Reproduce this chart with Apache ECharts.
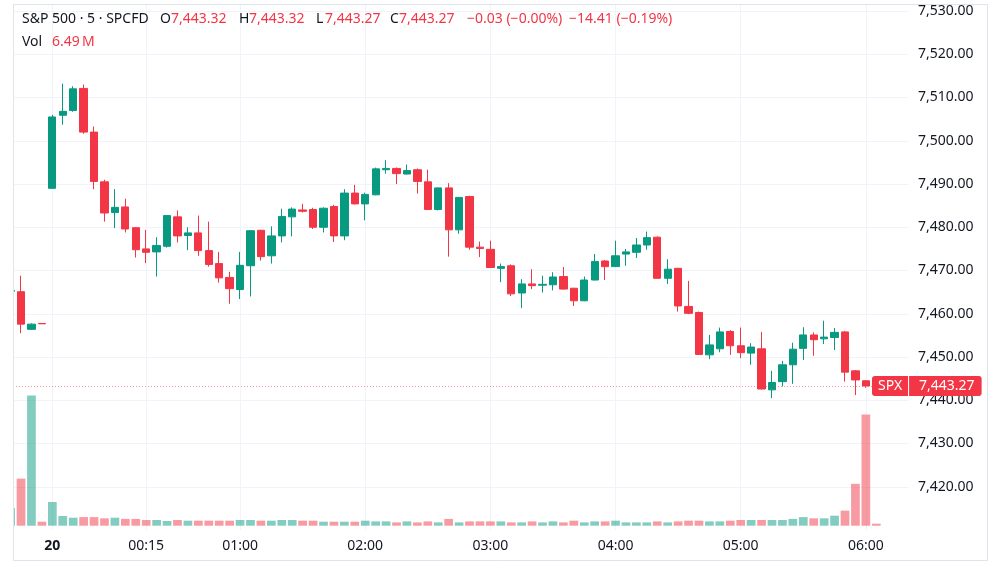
<!DOCTYPE html>
<html><head><meta charset="utf-8">
<script src="https://cdn.jsdelivr.net/npm/echarts@6/dist/echarts.min.js"></script>
<style>html,body{margin:0;padding:0;background:#fff}#c{width:1000px;height:569px}</style>
</head><body><div id="c"></div>
<script>
// ---- data (5-minute bars, index 0..83) ----
const opens  = [7465.2,7465.1,7456.4,7457.75,7489.0,7505.9,7507.0,7512.1,7502.0,7490.5,
                7483.4,7484.7,7479.9,7475.0,7474.3,7475.6,7482.4,7478.1,7478.7,7474.6,
                7471.6,7468.4,7465.6,7471.1,7479.3,7473.4,7478.0,7482.4,7484.0,7484.1,
                7480.0,7484.8,7478.0,7487.9,7485.4,7487.5,7493.3,7493.6,7492.3,7493.3,
                7490.5,7484.1,7489.1,7479.4,7487.1,7475.4,7474.9,7470.5,7471.1,7464.8,
                7466.9,7466.6,7466.7,7468.6,7465.9,7463.0,7467.8,7472.2,7470.9,7473.8,
                7474.2,7475.9,7477.7,7468.2,7470.5,7461.7,7460.3,7450.5,7451.9,7455.9,
                7452.6,7450.9,7451.9,7442.4,7444.3,7448.2,7452.0,7455.1,7454.2,7454.5,
                7455.8,7446.8,7444.5,7443.32];
const highs  = [7465.5,7468.8,7457.8,7457.75,7506.0,7513.2,7512.6,7513.0,7503.3,7491.0,
                7488.8,7486.6,7480.0,7479.4,7477.7,7482.8,7483.9,7480.0,7482.7,7481.3,
                7474.3,7469.7,7474.3,7479.3,7479.4,7480.2,7484.3,7484.6,7485.4,7484.5,
                7484.6,7485.2,7488.8,7489.8,7488.0,7493.8,7495.5,7493.8,7494.5,7493.6,
                7493.3,7489.2,7490.2,7487.0,7487.3,7476.7,7476.9,7471.6,7471.4,7468.0,
                7470.3,7468.8,7469.6,7470.8,7466.0,7468.6,7473.8,7472.4,7476.9,7475.0,
                7477.5,7479.0,7477.9,7472.6,7470.6,7467.6,7460.5,7455.1,7456.8,7456.2,
                7456.8,7453.2,7455.8,7446.8,7449.1,7453.3,7456.9,7455.7,7458.4,7456.7,
                7456.0,7447.0,7444.6,7443.32];
const lows   = [7465.1,7455.5,7456.3,7457.65,7488.9,7503.7,7506.7,7501.6,7488.8,7481.3,
                7479.8,7478.8,7473.0,7471.7,7468.6,7475.3,7476.5,7474.7,7473.4,7470.9,
                7467.2,7462.3,7463.4,7464.0,7472.3,7471.6,7476.5,7477.9,7483.4,7479.6,
                7478.8,7476.6,7477.0,7485.3,7481.6,7487.4,7492.4,7490.0,7492.2,7487.8,
                7484.0,7483.9,7473.2,7478.5,7474.8,7473.1,7470.6,7467.3,7464.1,7461.3,
                7465.7,7464.9,7465.4,7465.6,7461.8,7462.9,7467.7,7467.8,7470.8,7471.1,
                7472.9,7474.8,7468.1,7466.9,7460.5,7459.9,7450.5,7449.5,7451.1,7450.5,
                7449.7,7448.2,7442.5,7440.5,7443.2,7443.8,7449.3,7450.3,7453.0,7451.6,
                7444.3,7441.2,7442.9,7443.27];
const closes = [7465.4,7457.6,7457.6,7457.68,7505.5,7506.8,7512.0,7502.0,7490.6,7483.3,
                7484.6,7479.6,7474.8,7474.2,7475.8,7482.7,7478.0,7478.7,7474.6,7471.4,
                7468.3,7465.8,7471.2,7479.2,7473.2,7478.0,7482.5,7484.2,7483.7,7480.0,
                7484.4,7478.0,7487.9,7485.4,7487.6,7493.5,7493.6,7492.4,7493.1,7490.6,
                7484.1,7489.1,7479.4,7486.9,7475.4,7475.1,7470.7,7470.9,7464.6,7466.9,
                7466.5,7466.8,7468.5,7465.7,7463.0,7467.8,7472.1,7470.9,7473.4,7474.3,
                7475.9,7477.6,7468.2,7470.3,7461.8,7460.1,7450.6,7452.8,7455.8,7452.6,
                7451.0,7452.3,7442.6,7444.1,7448.2,7451.8,7455.1,7454.0,7454.6,7455.7,
                7446.5,7444.7,7443.30,7443.27];
// volume in millions
const volumes = [57,153,423,13,77,31.5,26,28,28,24,
                 26,22,22,18.5,18.5,15.3,18.5,16.3,16.3,16.3,
                 16.3,16.3,18.5,18.5,16.3,16.3,18.5,18.5,16.3,16.3,
                 13,13,13,13,16.3,14,14,10.7,14,10.7,
                 14,10.7,22,10.7,14,14,14,14,10.7,10.7,
                 14,10.7,14,10.7,16.3,10.7,14,14,16.3,10.7,
                 10.7,10.7,14,10.7,14,16.3,16.3,14,14,16.3,
                 18.5,18.5,18.5,18.5,18.5,22,28,24,24,32.5,
                 49,136,361,6.49];
const tickIndex  = [4,13,22,34,46,58,70,82];
const tickLabels = ['20','00:15','01:00','02:00','03:00','04:00','05:00','06:00'];
const symbolName = 'S&P 500 · 5 · SPCFD';
const priceTag = 'SPX';
const sessionStart = 4;   // first bar of the "20" session

// ---- helpers ----
const UP = '#089981', DOWN = '#F23645';
const UPV = 'rgba(8,153,129,0.5)', DOWNV = 'rgba(242,54,69,0.5)';
const FONT = 'Noto Sans';
const fmt = v => v.toLocaleString('en-US',{minimumFractionDigits:2, maximumFractionDigits:2});
const sgn = v => (v < 0 ? '\u2212' : '+') + fmt(Math.abs(v));

const candleData = opens.map((o,i) => [i, o, closes[i], lows[i], highs[i]]);
const volData = volumes.map((v,i) => ({value:[i, v], itemStyle:{color: closes[i] >= opens[i] ? UPV : DOWNV}}));

const L = opens.length - 1;
const lastClose = closes[L];
const chg = closes[L] - closes[L-1];
const chgPct = chg / closes[L-1] * 100;
const dchg = closes[L] - closes[sessionStart-1];
const dchgPct = dchg / closes[sessionStart-1] * 100;
const pctStr = p => '(' + (p < 0 ? '\u2212' : '+') + Math.abs(p).toFixed(2) + '%)';

const dark = '#131722';
const hdr = [
  {x:22,  y:19, t:symbolName, c:dark},
  {x:160, y:19, t:'O', c:dark}, {x:171, y:19, t:fmt(opens[L]), c:DOWN},
  {x:239, y:19, t:'H', c:dark}, {x:249, y:19, t:fmt(highs[L]), c:DOWN},
  {x:316, y:19, t:'L', c:dark}, {x:325, y:19, t:fmt(lows[L]), c:DOWN},
  {x:390, y:19, t:'C', c:dark}, {x:399, y:19, t:fmt(closes[L]), c:DOWN},
  {x:467, y:19, t:sgn(chg) + ' ' + pctStr(chgPct), c:DOWN},
  {x:569, y:19, t:sgn(dchg) + ' ' + pctStr(dchgPct), c:DOWN},
  {x:22,  y:42, t:'Vol', c:dark},
  {x:52,  y:42, t:volumes[L].toFixed(2) + '\u2009M', c:DOWN}
];

const XMIN = 0.23, XMAX = 86.04;
const YMIN = 7410, YMAX = 7531.62;
const nY = 14;
const splitColors = Array.from({length:nY}, (_,k) => k === 0 ? 'rgba(0,0,0,0)' : '#f0f3fa');

const chart = echarts.init(document.getElementById('c'), null, {renderer:'canvas'});
chart.setOption({
  animation: false,
  backgroundColor: '#ffffff',
  textStyle: {fontFamily: FONT},
  grid: [
    {left: 13, right: 92, top: 4, bottom: 39},
    {left: 13, right: 92, top: 385.7, bottom: 43.3}
  ],
  xAxis: [
    {type:'value', gridIndex:0, min:XMIN, max:XMAX,
     axisLine:{show:false},
     axisTick:{show:false, customValues: tickIndex},
     axisLabel:{customValues: tickIndex, color: dark, fontSize:14, fontFamily: FONT, margin: 9,
       formatter: v => { const k = tickIndex.indexOf(Math.round(v)); const s = k >= 0 ? tickLabels[k] : '';
                         return k === 0 ? '{b|' + s + '}' : s; },
       rich:{b:{fontWeight:'bold', fontSize:14, fontFamily: FONT, color: dark}}},
     splitLine:{show:true, lineStyle:{color:'#f0f3fa', width:1}}},
    {type:'value', gridIndex:1, min:XMIN, max:XMAX, show:false, splitLine:{show:false}}
  ],
  yAxis: [
    {type:'value', gridIndex:0, position:'right', min:YMIN, max:YMAX, interval:10,
     axisLine:{show:false}, axisTick:{show:false},
     axisLabel:{color: dark, fontSize:14, fontFamily: FONT, margin: 10, showMinLabel:false, showMaxLabel:false,
       formatter: v => fmt(v)},
     splitLine:{show:true, lineStyle:{color: splitColors, width:1}}},
    {type:'value', gridIndex:1, min:0, max:455, show:false, splitLine:{show:false}}
  ],
  series: [
    {type:'bar', name:'Volume', xAxisIndex:1, yAxisIndex:1, data: volData, barWidth: 8.7, z:1},
    {type:'candlestick', name:'SPX', xAxisIndex:0, yAxisIndex:0, data: candleData,
     encode:{x:0, y:[1,2,3,4]}, barWidth: 7.8, z:3,
     itemStyle:{color: UP, color0: DOWN, borderColor: UP, borderColor0: DOWN, borderWidth:1}},
    {type:'line', name:'last', xAxisIndex:0, yAxisIndex:0, data:[[L, lastClose]], showSymbol:false, symbol:'none', clip:false, z:5,
     lineStyle:{opacity:0},
     markLine:{silent:true, symbol:['none','none'], animation:false,
       lineStyle:{color:'rgba(242,54,69,0.55)', type:[1,2], width:1},
       label:{show:true, position:'end', distance:0, offset:[-36,0],
         formatter: () => '{a|' + priceTag + '}{s|}{b|' + fmt(lastClose) + '}',
         rich:{
           a:{backgroundColor: DOWN, color:'#fff', fontSize:14, fontFamily: FONT, padding:[3,6,3,6], height:14, lineHeight:14, borderRadius:[3,0,0,3]},
           s:{backgroundColor:'rgba(255,255,255,0.55)', width:1, height:20},
           b:{backgroundColor: DOWN, color:'#fff', fontSize:14, fontFamily: FONT, padding:[3,7,3,10], height:14, lineHeight:14, borderRadius:[0,3,3,0]}
         }},
       data:[{yAxis: lastClose}]}}
  ],
  graphic: [
    // white mask left of the plot (clips the partially visible first bar)
    {type:'rect', silent:true, z:100, shape:{x:0, y:0, width:13, height:569}, style:{fill:'#ffffff'}},
    {type:'rect', silent:true, z:101, shape:{x:13.5, y:4.5, width:974, height:556},
     style:{fill:'none', stroke:'#e0e3eb', lineWidth:1}}
  ].concat(hdr.map(h => ({type:'text', silent:true, z:110, x:h.x, y:h.y,
     style:{text:h.t, fill:h.c, font:'14px "' + FONT + '"', textVerticalAlign:'middle', textAlign:'left'}})))
});
</script></body></html>
